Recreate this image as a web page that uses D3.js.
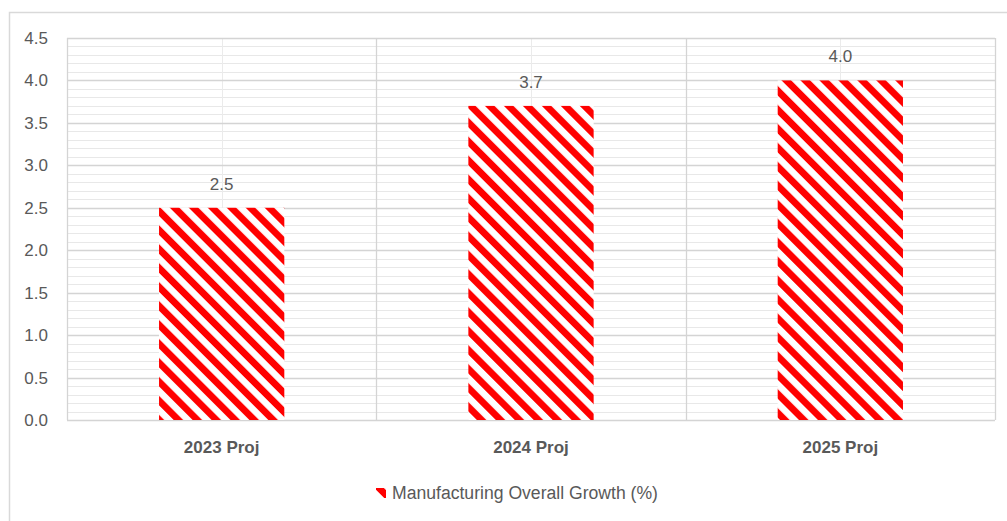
<!DOCTYPE html>
<html><head><meta charset="utf-8">
<script src="https://cdn.jsdelivr.net/npm/d3@7"></script>
<style>
html,body{margin:0;padding:0;background:#fff;}
svg{display:block;font-family:"Liberation Sans",Arial,sans-serif;}
</style></head>
<body>
<svg id="chart" width="1007" height="521"></svg>
<script>
const categories = ["2023 Proj", "2024 Proj", "2025 Proj"];
const values = [2.5, 3.7, 4.0];
const valueLabels = ["2.5", "3.7", "4.0"];
const seriesName = "Manufacturing Overall Growth (%)";
const yTickValues = [0, 0.5, 1.0, 1.5, 2.0, 2.5, 3.0, 3.5, 4.0, 4.5];
const yTickLabels = ["0.0", "0.5", "1.0", "1.5", "2.0", "2.5", "3.0", "3.5", "4.0", "4.5"];
const yMinorStep = 0.1;

const svg = d3.select("#chart");
const plot = {left: 67, top: 38, right: 995, bottom: 420};

// outer chart frame
svg.append("rect").attr("x", 9.5).attr("y", 12.5).attr("width", 1010).attr("height", 530)
  .attr("fill", "#fff").attr("stroke", "#d9d9d9").attr("stroke-width", 1.5);

const defs = svg.append("defs");
const pat = defs.append("pattern").attr("id", "hatch")
  .attr("patternUnits", "userSpaceOnUse").attr("width", 13.4).attr("height", 13.4)
  .attr("patternTransform", "rotate(-45)");
pat.append("rect").attr("width", 13.4).attr("height", 13.4).attr("fill", "#fff");
pat.append("rect").attr("x", 0).attr("width", 6.8).attr("height", 13.4).attr("fill", "#ff0000");

const x = d3.scaleBand().domain(categories).range([plot.left, plot.right]).paddingInner(0).paddingOuter(0);
const y = d3.scaleLinear().domain([0, 4.5]).range([plot.bottom, plot.top]);

const g = svg.append("g");

// minor horizontal gridlines
const minor = d3.range(0, 4.5 + 1e-9, yMinorStep).map(v => Math.round(v * 10) / 10);
g.selectAll("line.minor").data(minor).join("line")
  .attr("x1", plot.left).attr("x2", plot.right)
  .attr("y1", d => Math.round(y(d)) + 0.5).attr("y2", d => Math.round(y(d)) + 0.5)
  .attr("stroke", "#e8e8e8").attr("stroke-width", 1);

// vertical minor lines at category centers
g.selectAll("line.vc").data(categories).join("line")
  .attr("x1", d => Math.round(x(d) + x.bandwidth() / 2) + 0.5)
  .attr("x2", d => Math.round(x(d) + x.bandwidth() / 2) + 0.5)
  .attr("y1", plot.top).attr("y2", plot.bottom)
  .attr("stroke", "#ebebeb").attr("stroke-width", 1);

// major horizontal gridlines
g.selectAll("line.major").data(yTickValues).join("line")
  .attr("x1", plot.left).attr("x2", plot.right)
  .attr("y1", d => Math.round(y(d)) + 0.5).attr("y2", d => Math.round(y(d)) + 0.5)
  .attr("stroke", "#d4d4d4").attr("stroke-width", 1.3);

// vertical boundaries between categories
const bounds = categories.map(c => x(c)).concat([plot.right]);
g.selectAll("line.vb").data(bounds).join("line")
  .attr("x1", d => Math.round(d) + 0.5).attr("x2", d => Math.round(d) + 0.5)
  .attr("y1", plot.top).attr("y2", plot.bottom)
  .attr("stroke", "#d4d4d4").attr("stroke-width", 1.3);

// bars
const barW = x.bandwidth() * 0.405;
g.selectAll("rect.bar").data(values).join("rect")
  .attr("x", (d, i) => x(categories[i]) + (x.bandwidth() - barW) / 2)
  .attr("y", d => y(d))
  .attr("width", barW)
  .attr("height", d => y(0) - y(d))
  .attr("fill", "url(#hatch)");

// value labels
g.selectAll("text.val").data(values).join("text")
  .attr("x", (d, i) => x(categories[i]) + x.bandwidth() / 2)
  .attr("y", d => y(d) - 18)
  .attr("text-anchor", "middle").attr("font-size", 17).attr("fill", "#595959")
  .text((d, i) => valueLabels[i]);

// y tick labels
g.selectAll("text.yt").data(yTickValues).join("text")
  .attr("x", 48).attr("y", d => y(d)).attr("dy", "0.35em")
  .attr("text-anchor", "end").attr("font-size", 17).attr("fill", "#595959")
  .text((d, i) => yTickLabels[i]);

// x category labels
g.selectAll("text.xt").data(categories).join("text")
  .attr("x", d => x(d) + x.bandwidth() / 2).attr("y", 453)
  .attr("text-anchor", "middle").attr("font-size", 17).attr("font-weight", "bold").attr("fill", "#595959")
  .text(d => d);

// legend
const lg = svg.append("g");
lg.append("rect").attr("x", 376).attr("y", 488).attr("width", 10).attr("height", 10).attr("fill", "url(#hatch)");
lg.append("text").attr("x", 392).attr("y", 493).attr("dy", "0.35em")
  .attr("font-size", 17.6).attr("fill", "#595959").text(seriesName);
</script>
</body></html>
